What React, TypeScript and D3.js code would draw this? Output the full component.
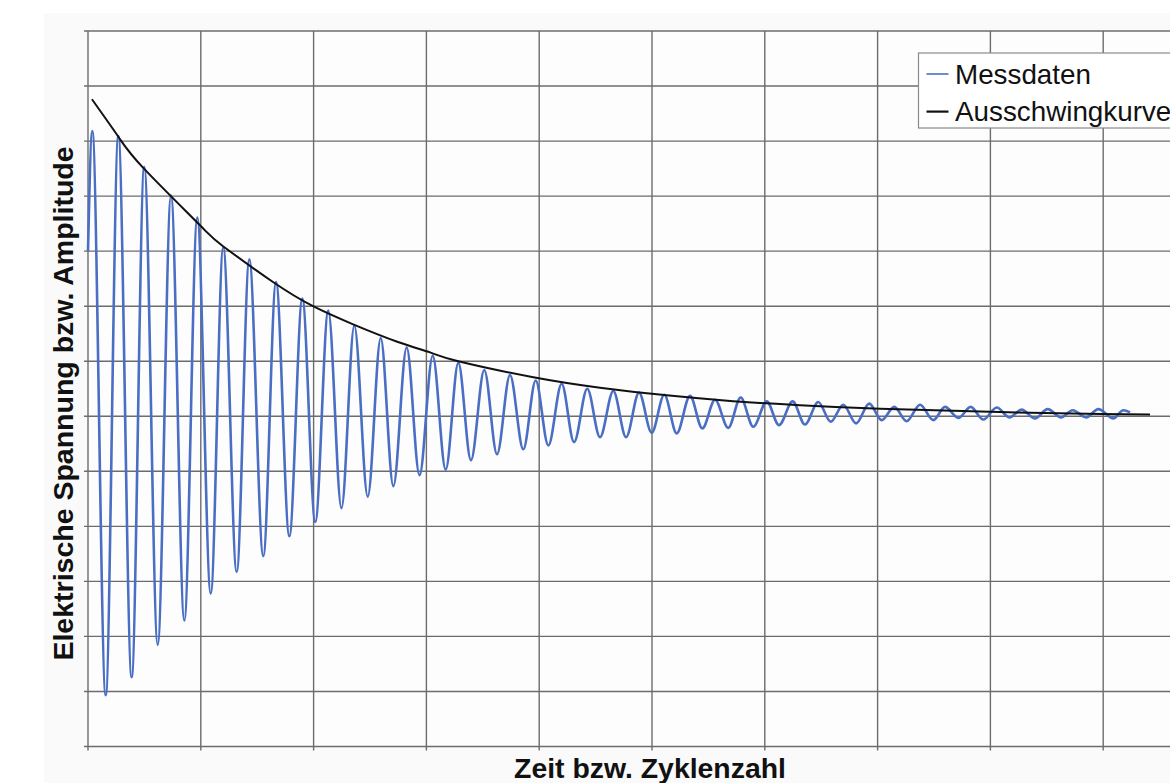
import React, { useEffect, useRef } from "react";
import * as d3 from "d3";

// Messdaten: Umkehrpunkte der gedämpften Schwingung [Zeit, Spannung] in Rastereinheiten
const messdaten: [number, number][] = [
  [0, 3.0], [0.038, 5.18], [0.157, -5.07], [0.269, 5.09], [0.387, -4.74],
  [0.499, 4.53], [0.618, -4.15], [0.736, 4.01], [0.854, -3.71], [0.969, 3.61],
  [1.088, -3.22], [1.199, 3.07], [1.318, -2.83], [1.43, 2.85], [1.554, -2.54],
  [1.667, 2.44], [1.785, -2.18], [1.9, 2.14], [2.015, -1.92], [2.13, 1.92],
  [2.247, -1.67], [2.361, 1.65], [2.48, -1.46], [2.595, 1.42], [2.707, -1.27],
  [2.825, 1.25], [2.939, -1.07], [3.056, 1.1], [3.171, -0.97], [3.283, 0.97],
  [3.395, -0.8], [3.513, 0.84], [3.626, -0.69], [3.741, 0.75], [3.859, -0.6],
  [3.969, 0.65], [4.081, -0.53], [4.199, 0.59], [4.309, -0.47], [4.426, 0.5],
  [4.539, -0.38], [4.657, 0.46], [4.77, -0.38], [4.885, 0.43], [4.997, -0.3],
  [5.109, 0.39], [5.219, -0.31], [5.337, 0.37], [5.446, -0.22], [5.559, 0.3],
  [5.676, -0.21], [5.786, 0.34], [5.898, -0.19], [6.017, 0.27], [6.126, -0.16],
  [6.247, 0.27], [6.356, -0.15], [6.474, 0.26], [6.584, -0.1], [6.696, 0.21],
  [6.809, -0.13], [6.926, 0.23], [7.036, -0.07], [7.148, 0.17], [7.258, -0.09],
  [7.376, 0.21], [7.494, -0.07], [7.598, 0.17], [7.716, -0.03], [7.825, 0.17],
  [7.937, -0.06], [8.056, 0.16], [8.168, -0.02], [8.277, 0.12], [8.395, -0.04],
  [8.508, 0.13], [8.626, -0.02], [8.73, 0.11], [8.848, -0.02], [8.957, 0.13],
  [9.09, -0.04], [9.178, 0.11], [9.238, 0.07],
];

// Ausschwingkurve (Hüllkurve)
const ausschwingkurve: [number, number][] = [
  [0.035, 5.76], [0.272, 5.07], [0.496, 4.5], [0.993, 3.47], [1.197, 3.09],
  [1.64, 2.44], [1.995, 2.0], [2.34, 1.68], [2.748, 1.35], [3.032, 1.16],
  [3.283, 1.0], [3.948, 0.71], [4.539, 0.52], [5.13, 0.38], [5.72, 0.275],
  [6.312, 0.2], [7.021, 0.135], [7.996, 0.08], [8.986, 0.04], [9.415, 0.03],
];

const xRaster = [0, 1, 2, 3, 4, 5, 6, 7, 8, 9, 10];
const yRaster = [-6, -5, -4, -3, -2, -1, 0, 1, 2, 3, 4, 5, 6, 7];
const legende = ["Messdaten", "Ausschwingkurve"];
const titelX = "Zeit bzw. Zyklenzahl";
const titelY = "Elektrische Spannung bzw. Amplitude";

const width = 1170;
const height = 783;
const margin = { top: 31, bottom: 36.5, left: 88, right: -46 };
const font = "'Liberation Sans', Arial, sans-serif";
const blau = "#4a6ec4";
const gitter = "#6c6c6c";

export default function App() {
  const ref = useRef<SVGSVGElement>(null);

  useEffect(() => {
    const svg = d3.select(ref.current);
    svg.selectAll("*").remove();

    const x = d3
      .scaleLinear()
      .domain([0, 10])
      .range([margin.left, width - margin.right]);
    const y = d3
      .scaleLinear()
      .domain([-6, 7])
      .range([height - margin.bottom, margin.top]);

    // Hintergrund der Grafik
    svg
      .append("rect")
      .attr("x", 44)
      .attr("y", 13)
      .attr("width", width)
      .attr("height", height)
      .attr("fill", "#fafafa");
    svg
      .append("rect")
      .attr("x", x(0))
      .attr("y", y(7))
      .attr("width", x(10) - x(0))
      .attr("height", y(-6) - y(7))
      .attr("fill", "#fdfdfd");

    // Gitternetz
    const grid = svg.append("g").attr("stroke", gitter).attr("stroke-width", 1.4);
    grid
      .selectAll("line.h")
      .data(yRaster)
      .join("line")
      .attr("class", "h")
      .attr("x1", x(0) - 4)
      .attr("x2", x(10))
      .attr("y1", (d) => y(d))
      .attr("y2", (d) => y(d));
    grid
      .selectAll("line.v")
      .data(xRaster)
      .join("line")
      .attr("class", "v")
      .attr("x1", (d) => x(d))
      .attr("x2", (d) => x(d))
      .attr("y1", y(7))
      .attr("y2", y(-6) + 4);

    const linie = d3
      .line<[number, number]>()
      .x((d) => x(d[0]))
      .y((d) => y(d[1]));

    // Messdaten
    svg
      .append("path")
      .datum(messdaten)
      .attr("fill", "none")
      .attr("stroke", blau)
      .attr("stroke-width", 2.6)
      .attr("stroke-linejoin", "round")
      .attr("d", linie.curve(d3.curveMonotoneX));

    // Ausschwingkurve
    svg
      .append("path")
      .datum(ausschwingkurve)
      .attr("fill", "none")
      .attr("stroke", "#111")
      .attr("stroke-width", 2)
      .attr("d", linie.curve(d3.curveNatural));

    // Achsentitel
    svg
      .append("text")
      .attr("x", 650)
      .attr("y", 778)
      .attr("text-anchor", "middle")
      .attr("font-family", font)
      .attr("font-weight", "bold")
      .attr("font-size", 28.4)
      .attr("fill", "#111")
      .text(titelX);
    svg
      .append("text")
      .attr("transform", `translate(73,403.5) rotate(-90)`)
      .attr("text-anchor", "middle")
      .attr("font-family", font)
      .attr("font-weight", "bold")
      .attr("font-size", 28.5)
      .attr("fill", "#111")
      .text(titelY);

    // Legende
    const leg = svg.append("g").attr("transform", "translate(918.5,53)");
    leg
      .append("rect")
      .attr("width", 280)
      .attr("height", 75)
      .attr("fill", "#fff")
      .attr("stroke", "#8a8a8a")
      .attr("stroke-width", 1.2);
    const farben = [blau, "#111"];
    legende.forEach((name, i) => {
      const row = leg.append("g").attr("transform", `translate(0,${21 + i * 37.6})`);
      row
        .append("line")
        .attr("x1", 8)
        .attr("x2", 30)
        .attr("stroke", farben[i])
        .attr("stroke-width", i === 0 ? 1.6 : 2.2);
      row
        .append("text")
        .attr("x", 36.5)
        .attr("y", 9.5)
        .attr("font-family", font)
        .attr("font-size", 27.8)
        .attr("fill", "#111")
        .text(name);
    });
  }, []);

  return (
    <svg
      ref={ref}
      width={width}
      height={height}
      style={{ position: "absolute", left: 0, top: 0, background: "#fff" }}
    />
  );
}
